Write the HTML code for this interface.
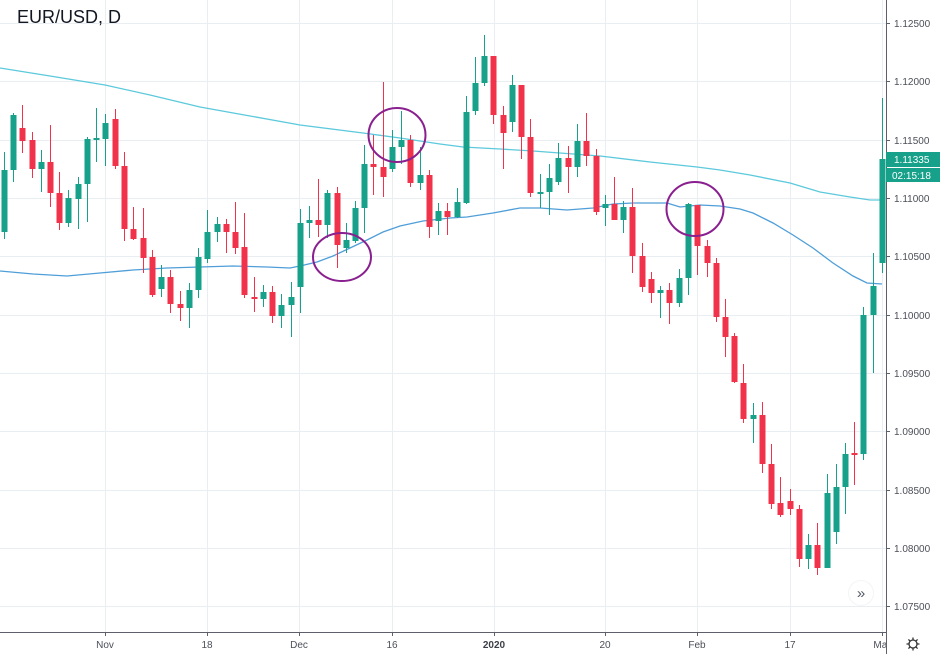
<!DOCTYPE html>
<html><head><meta charset="utf-8"><style>
html,body{margin:0;padding:0;background:#fff;}
svg{display:block;}
text{font-family:"Liberation Sans",sans-serif;}
</style></head><body>
<svg width="940" height="654" viewBox="0 0 940 654" xmlns="http://www.w3.org/2000/svg">
<rect width="940" height="654" fill="#fff"/>
<path stroke="#e9eef3" stroke-width="1" fill="none" d="M0 23.5H886M0 81.5H886M0 140.5H886M0 198.5H886M0 256.5H886M0 315.5H886M0 373.5H886M0 431.5H886M0 490.5H886M0 548.5H886M0 606.5H886M105.5 0V632M207.5 0V632M299.5 0V632M392.5 0V632M494.5 0V632M605.5 0V632M697.5 0V632M790.5 0V632M882.5 0V632"/>
<polyline fill="none" stroke="#5cc9dc" stroke-width="1.3" points="0,68 50,76 105,85 150,95 200,107 250,116 300,125 363,133 400,138 440,144 463,147 500,149 533,151 600,156 650,162 697,167 720,170 750,175 790,183 820,192 850,197 870,200 882,200"/>
<polyline fill="none" stroke="#4f9ed8" stroke-width="1.3" points="0,271 33,274 67,276 100,273 133,270 167,268 200,267 233,266 267,267 290,268 300,266 317,262 333,256 350,248 367,240 383,232 400,226 423,221 450,218 467,217 493,213 520,208 540,208 567,210 593,208 613,204 633,203 667,203 680,207 700,205 720,206 740,209 753,213 773,223 793,235 813,248 833,263 853,276 867,283 882,284"/>
<path stroke="#17a08a" stroke-width="1" fill="none" d="M4.5 152V239M13.5 113V182M41.5 150V192M68.5 190V227M78.5 177V229M87.5 137V222M96.5 108V162M105.5 114V166M161.5 265V297M189.5 283V328M198.5 248V298M207.5 210V263M217.5 217V242M263.5 285V307M281.5 294V328M291.5 282V337M300.5 209V313M309.5 206V238M327.5 190V238M346.5 223V253M355.5 201V243M364.5 145V233M392.5 130V172M401.5 111V164M420.5 147V190M438.5 203V235M457.5 188V218M466.5 96V204M475.5 57V115M484.5 35V86M512.5 75V132M540.5 174V208M549.5 164V215M558.5 143V185M577.5 124V177M605.5 195V226M623.5 201V233M660.5 286V318M679.5 269V307M688.5 203V295M753.5 403V443M808.5 534V569M827.5 474V568M836.5 464V544M845.5 443V514M863.5 307V460M873.5 253V373M882.5 98V273"/>
<path fill="#17a08a" d="M1.5 170h6V232h-6zM10.5 115h6V170h-6zM38.5 162h6V169h-6zM65.5 198h6V223h-6zM75.5 184h6V199h-6zM84.5 139h6V184h-6zM93.5 138h6V140h-6zM102.5 123h6V139h-6zM158.5 277h6V289h-6zM186.5 290h6V308h-6zM195.5 257h6V290h-6zM204.5 232h6V259h-6zM214.5 224h6V232h-6zM260.5 292h6V299h-6zM278.5 305h6V316h-6zM288.5 297h6V305h-6zM297.5 223h6V287h-6zM306.5 220h6V223h-6zM324.5 193h6V225h-6zM343.5 240h6V248h-6zM352.5 208h6V241h-6zM361.5 164h6V208h-6zM389.5 147h6V169h-6zM398.5 140h6V147h-6zM417.5 175h6V183h-6zM435.5 211h6V221h-6zM454.5 202h6V217h-6zM463.5 112h6V203h-6zM472.5 83h6V111h-6zM481.5 56h6V83h-6zM509.5 85h6V122h-6zM537.5 192h6V194h-6zM546.5 178h6V192h-6zM555.5 158h6V182h-6zM574.5 141h6V167h-6zM602.5 204h6V208h-6zM620.5 207h6V220h-6zM657.5 290h6V293h-6zM676.5 278h6V303h-6zM685.5 204h6V278h-6zM750.5 415h6V419h-6zM805.5 545h6V559h-6zM824.5 493h6V568h-6zM833.5 487h6V532h-6zM842.5 454h6V487h-6zM860.5 315h6V454h-6zM870.5 286h6V315h-6zM879.5 159h6V263h-6z"/>
<path stroke="#f0334a" stroke-width="1" fill="none" d="M22.5 105V153M32.5 132V178M50.5 125V207M59.5 172V230M115.5 109V169M124.5 152V241M133.5 207V240M143.5 208V273M152.5 250V297M170.5 270V313M180.5 291V321M226.5 219V253M235.5 202V254M244.5 213V298M254.5 277V312M272.5 286V323M318.5 179V237M337.5 187V268M373.5 135V195M383.5 82V197M410.5 135V187M429.5 170V238M447.5 203V235M493.5 56V124M503.5 106V169M521.5 85V159M530.5 119V197M568.5 146V193M586.5 113V166M596.5 149V215M614.5 177V220M632.5 188V273M642.5 243V292M651.5 272V303M669.5 283V324M697.5 205V275M707.5 240V277M716.5 258V322M725.5 299V357M734.5 333V383M743.5 364V423M762.5 402V473M771.5 444V509M780.5 477V517M790.5 489V515M799.5 505V567M817.5 523V575M854.5 422V485"/>
<path fill="#f0334a" d="M19.5 128h6V141h-6zM29.5 140h6V169h-6zM47.5 162h6V193h-6zM56.5 193h6V223h-6zM112.5 119h6V166h-6zM121.5 166h6V229h-6zM130.5 229h6V239h-6zM140.5 238h6V258h-6zM149.5 257h6V295h-6zM167.5 277h6V304h-6zM177.5 304h6V308h-6zM223.5 224h6V232h-6zM232.5 232h6V248h-6zM241.5 247h6V295h-6zM251.5 297h6V299h-6zM269.5 292h6V316h-6zM315.5 220h6V225h-6zM334.5 193h6V245h-6zM370.5 164h6V167h-6zM380.5 167h6V177h-6zM407.5 140h6V183h-6zM426.5 175h6V227h-6zM444.5 211h6V217h-6zM490.5 56h6V115h-6zM500.5 115h6V133h-6zM518.5 85h6V137h-6zM527.5 137h6V193h-6zM565.5 158h6V167h-6zM583.5 141h6V156h-6zM593.5 156h6V212h-6zM611.5 204h6V220h-6zM629.5 207h6V256h-6zM639.5 256h6V287h-6zM648.5 279h6V293h-6zM666.5 290h6V303h-6zM694.5 205h6V246h-6zM704.5 246h6V263h-6zM713.5 263h6V317h-6zM722.5 317h6V337h-6zM731.5 336h6V382h-6zM740.5 383h6V419h-6zM759.5 415h6V464h-6zM768.5 464h6V504h-6zM777.5 503h6V515h-6zM787.5 501h6V509h-6zM796.5 509h6V559h-6zM814.5 545h6V568h-6zM851.5 453h6V455h-6z"/>
<g fill="none" stroke="#8a1f8f" stroke-width="2">
<ellipse cx="342" cy="257" rx="29" ry="24"/>
<ellipse cx="397" cy="135" rx="28.5" ry="27"/>
<ellipse cx="695" cy="209" rx="28.5" ry="27"/>
</g>
<text x="17" y="23" font-size="18" fill="#131722">EUR/USD, D</text>
<circle cx="861" cy="593" r="13" fill="#f3f4f6"/>
<circle cx="861" cy="593" r="12" fill="#fff"/>
<text x="861" y="598" font-size="15" fill="#555a66" text-anchor="middle">»</text>
<path stroke="#5d606b" stroke-width="1" fill="none" d="M0 632.5H886M105.5 632V636M207.5 632V636M299.5 632V636M392.5 632V636M494.5 632V636M605.5 632V636M697.5 632V636M790.5 632V636M882.5 632V636"/>
<g font-size="10" fill="#4c4f58" text-anchor="middle">
<text x="105" y="648">Nov</text><text x="207" y="648">18</text><text x="299" y="648">Dec</text><text x="392" y="648">16</text><text x="494" y="648" font-weight="bold" fill="#3c3f48">2020</text><text x="605" y="648">20</text><text x="697" y="648">Feb</text><text x="790" y="648">17</text><text x="882" y="648">Mar</text>
</g>
<rect x="886.5" y="0" width="54" height="654" fill="#fff"/>
<path stroke="#5d606b" stroke-width="1" fill="none" d="M886.5 0V654M886 23.5H890M886 81.5H890M886 140.5H890M886 198.5H890M886 256.5H890M886 315.5H890M886 373.5H890M886 431.5H890M886 490.5H890M886 548.5H890M886 606.5H890"/>
<g font-size="10" fill="#4c4f58">
<text x="894" y="27">1.12500</text><text x="894" y="85">1.12000</text><text x="894" y="144">1.11500</text><text x="894" y="202">1.11000</text><text x="894" y="260">1.10500</text><text x="894" y="319">1.10000</text><text x="894" y="377">1.09500</text><text x="894" y="435">1.09000</text><text x="894" y="494">1.08500</text><text x="894" y="552">1.08000</text><text x="894" y="610">1.07500</text>
</g>
<rect x="886" y="152" width="54" height="15" fill="#17a08a"/>
<rect x="886" y="168" width="54" height="14" fill="#17a08a"/>
<g font-size="10" fill="#fff"><text x="894" y="163">1.11335</text><text x="892" y="179">02:15:18</text></g>
<g transform="translate(913,644)" stroke="#333" stroke-width="1.3" fill="none">
<circle r="4"/>
<path d="M0 -6.5V-4M0 4V6.5M-6.5 0H-4M4 0H6.5M-4.6 -4.6L-2.9 -2.9M2.9 2.9L4.6 4.6M-4.6 4.6L-2.9 2.9M2.9 -2.9L4.6 -4.6"/>
</g>
</svg>
</body></html>
